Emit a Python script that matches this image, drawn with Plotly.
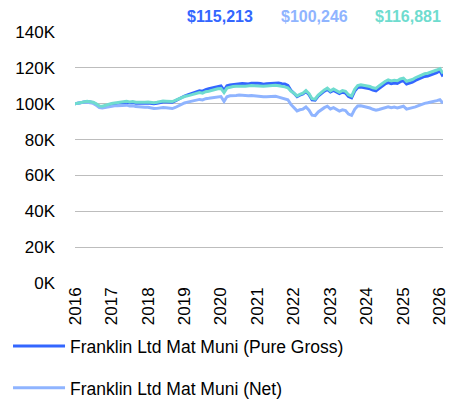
import pandas as pd
import plotly.graph_objects as go

# Growth of $100K, monthly, values in thousands of dollars
dates = pd.date_range("2016-01-01", "2026-02-01", freq="MS")

pure_gross = [
    100.0, 100.3, 100.8, 101.1, 101.2, 101.0, 100.6, 99.6, 98.3, 98.2, 98.7, 99.2,
    99.6, 99.9, 100.2, 100.4, 100.6, 100.8, 100.5, 100.7, 100.3, 100.2, 100.0, 100.3,
    100.4, 100.1, 100.0, 100.3, 100.7, 101.0, 100.9, 101.0, 100.8, 101.6, 102.6, 103.4,
    104.3, 104.9, 105.5, 106.0, 106.8, 107.2, 107.0, 107.9, 108.3, 108.8, 109.3, 109.7,
    109.9, 107.4, 110.0, 110.5, 110.8, 111.0, 111.0, 111.3, 111.2, 111.0, 111.4, 111.6,
    111.4, 111.3, 110.9, 111.1, 111.2, 111.4, 111.5, 111.6, 111.2, 111.0, 110.2, 107.5,
    105.8, 104.0, 104.8, 105.4, 106.8, 105.0, 102.2, 102.0, 104.2, 105.8, 107.0, 108.0,
    106.5, 107.4, 106.5, 105.6, 106.4, 106.0, 104.0, 103.3, 107.0, 109.0, 109.3, 109.0,
    108.8, 108.3, 107.6, 107.2, 108.5, 110.0, 111.0, 111.8, 111.2, 111.6, 111.3, 112.3,
    112.8, 111.0, 111.4, 112.0, 113.0, 113.8, 114.6, 115.2, 115.5, 116.0, 116.5, 117.3,
    118.4, 115.213,
]

net = [
    100.0, 100.3, 100.7, 100.9, 100.8, 100.6, 100.2, 99.1, 97.8, 97.6, 98.0, 98.4,
    98.6, 98.8, 98.9, 99.0, 99.1, 99.2, 98.8, 98.9, 98.4, 98.2, 97.8, 98.0,
    98.0, 97.6, 97.3, 97.4, 97.7, 97.9, 97.7, 97.7, 97.3, 97.9, 98.8, 99.6,
    100.4, 100.9, 101.3, 101.7, 102.2, 102.4, 102.1, 102.8, 103.0, 103.3, 103.6, 103.9,
    104.0, 101.3, 103.9, 104.4, 104.7, 104.6, 104.8, 104.6, 104.3, 104.5, 104.6, 104.4,
    104.2, 103.8, 103.9, 103.9, 104.0, 104.0, 104.1, 103.7, 103.3, 103.0, 102.2, 99.6,
    97.8, 96.0, 96.6, 97.0, 98.2, 96.4, 93.6, 93.4, 95.4, 96.8, 97.8, 98.6,
    97.1, 97.8, 96.9, 95.9, 96.6, 96.2, 94.2, 93.5, 96.9, 98.7, 98.9, 98.5,
    98.2, 97.6, 96.9, 96.4, 96.8, 97.2, 97.9, 98.3, 97.8, 98.1, 97.7, 98.3,
    98.6, 97.0, 97.3, 97.6, 98.2, 98.9, 99.6, 100.2, 100.5, 100.8, 101.1, 101.7,
    102.2, 100.246,
]

benchmark = [
    100.0, 100.3, 100.8, 101.1, 101.3, 101.1, 100.8, 99.9, 98.7, 98.6, 99.2, 99.7,
    100.1, 100.4, 100.7, 100.9, 101.1, 101.3, 101.0, 101.2, 100.8, 100.7, 100.5, 100.8,
    100.9, 100.6, 100.5, 100.8, 101.2, 101.5, 101.4, 101.5, 101.2, 101.9, 102.7, 103.3,
    104.0, 104.4, 104.9, 105.3, 105.9, 106.2, 105.9, 106.7, 107.0, 107.5, 107.9, 108.3,
    108.5, 106.2, 108.7, 109.2, 109.6, 109.7, 109.9, 109.8, 109.7, 110.0, 110.2, 110.0,
    109.9, 109.6, 109.8, 109.9, 110.1, 110.2, 110.3, 110.0, 109.8, 109.4, 108.9, 107.1,
    105.9, 104.4, 105.2, 105.9, 107.3, 105.6, 102.8, 102.6, 104.8, 106.4, 107.7, 108.7,
    107.2, 108.2, 107.3, 106.4, 107.3, 106.9, 105.0, 104.3, 108.0, 110.1, 110.5, 110.2,
    110.0, 109.6, 108.9, 108.5, 109.9, 111.4, 112.4, 113.3, 112.7, 113.1, 112.8, 113.8,
    114.3, 112.5, 112.9, 113.5, 114.5, 115.3, 116.1, 116.7, 117.0, 117.5, 118.0, 118.8,
    119.6, 116.881,
]

series_names = [
    "Franklin Ltd Mat Muni (Pure Gross)",
    "Franklin Ltd Mat Muni (Net)",
    "Benchmark",
]
series_colors = ["#3366FF", "#8FB4FF", "#6FDCCF"]

y_tick_vals = [0, 20, 40, 60, 80, 100, 120, 140]
y_tick_text = ["0K", "20K", "40K", "60K", "80K", "100K", "120K", "140K"]

FONT = "Liberation Sans, Arial, sans-serif"


def font(size, color="#000000"):
    return dict(family=FONT, size=size, color=color)


fig = go.Figure()
all_series = [pure_gross, net, benchmark]
for i, (name, vals, color) in enumerate(zip(series_names, all_series, series_colors)):
    fig.add_trace(go.Scatter(
        x=dates, y=vals, mode="lines", name=name,
        line=dict(color=color, width=3),
        legendgroup=f"g{i}",
        showlegend=(i < 2),
    ))

# Ending values printed above the plot
end_x = [0.489, 0.747, 1.0]
for vals, color, xp in zip(all_series, series_colors, end_x):
    fig.add_annotation(
        x=xp, y=1.06, xref="paper", yref="paper",
        xanchor="right", yanchor="middle", showarrow=False,
        text=f"<b>${vals[-1] * 1000:,.0f}</b>",
        font=font(16, color),
    )

fig.update_layout(
    width=462, height=401,
    margin=dict(l=75, r=19, t=32, b=118, autoexpand=False),
    paper_bgcolor="white", plot_bgcolor="white",
    font=font(17),
    showlegend=True,
    legend=dict(
        x=-0.182, y=-0.18, xanchor="left", yanchor="top",
        orientation="v", tracegroupgap=16,
        font=font(17.5),
        itemwidth=52, bgcolor="rgba(0,0,0,0)",
    ),
)
fig.update_xaxes(
    type="date", automargin=False,
    range=[dates[0], dates[-1]],
    dtick="M12", tick0="2016-01-01", tickformat="%Y",
    tickangle=-90, showgrid=False, zeroline=False, showline=False,
    ticks="", tickfont=font(17),
)
fig.update_yaxes(
    automargin=False,
    range=[0, 140],
    tickvals=y_tick_vals, ticktext=y_tick_text,
    showgrid=True, gridcolor="#BDBDBD", gridwidth=1,
    zeroline=False, showline=False, ticks="",
    ticklabelstandoff=19,
    tickfont=font(17),
)

fig.write_html("out.html")
